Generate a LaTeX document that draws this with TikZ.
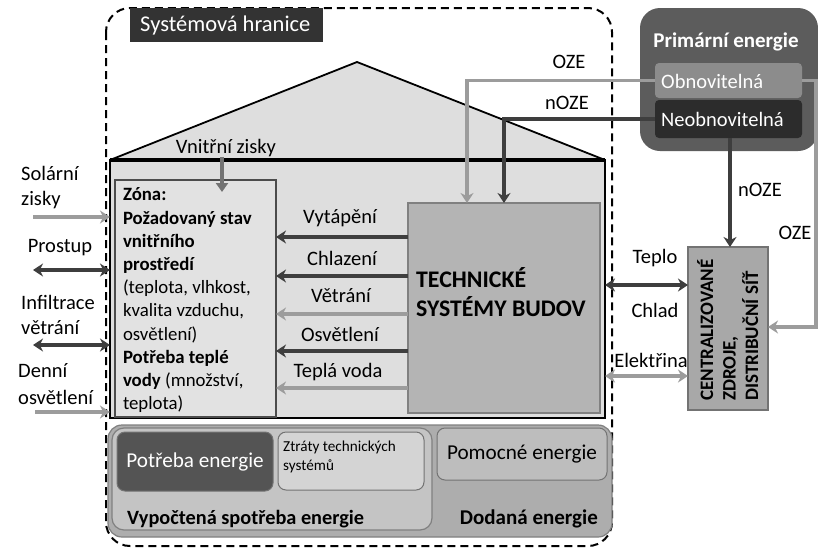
\documentclass[tikz,border=0pt]{standalone}
\usepackage{fontspec}
\setmainfont{Carlito}
\usetikzlibrary{arrows.meta,calc}
\definecolor{housegray}{HTML}{DEDEDE}
\definecolor{zonegray}{HTML}{E2E2E2}
\definecolor{techgray}{HTML}{B4B4B4}
\definecolor{centgray}{HTML}{A8A8A8}
\definecolor{primgray}{HTML}{5C5C5C}
\definecolor{obngray}{HTML}{8C8C8C}
\definecolor{neogray}{HTML}{2C2C2C}
\definecolor{darkarr}{HTML}{3E3E3E}
\definecolor{lightarr}{HTML}{9C9C9C}
\definecolor{botgray}{HTML}{ADADAD}
\definecolor{vypgray}{HTML}{C4C4C4}
\definecolor{potgray}{HTML}{545454}
\definecolor{ztrgray}{HTML}{D4D4D4}
\definecolor{pomgray}{HTML}{BDBDBD}
\definecolor{labelbg}{HTML}{333333}
\tikzset{
  box/.style={anchor=north west, inner sep=0pt, outer sep=0pt},
  txt/.style={inner sep=0pt, font=\fontsize{20.5}{25}\selectfont},
  arrbase/.style={line width=3.2pt},
  darkline/.style={arrbase, draw=darkarr, -{Stealth[length=10pt,width=13pt]}},
  lightline/.style={arrbase, draw=lightarr, -{Stealth[length=10pt,width=13pt]}},
  darkboth/.style={arrbase, draw=darkarr, {Stealth[length=10pt,width=13pt]}-{Stealth[length=10pt,width=13pt]}},
  lightboth/.style={arrbase, draw=lightarr, {Stealth[length=10pt,width=13pt]}-{Stealth[length=10pt,width=13pt]}},
  rbox/.style={box, rounded corners=8pt, draw=black!55, line width=1pt},
}
\begin{document}
\begin{tikzpicture}[x=1pt,y=-1pt]
\useasboundingbox (0,0) rectangle (818,549);
\fill[white] (0,0) rectangle (818,549);

% system boundary
\draw[line width=2pt, dash pattern=on 8pt off 5pt, rounded corners=24pt] (106,8) rectangle (612,546);
\node[box, fill=labelbg, minimum width=193pt, minimum height=34pt] (shlabel) at (130,8) {};
\node[txt, text=white, anchor=west, font=\fontsize{22.5}{26}\selectfont] (shtext) at (140,26) {Systémová hranice};

% roof
\fill[housegray] (110,160) -- (357,62) -- (605,160) -- cycle;
\draw[line width=1.8pt] (110,160) -- (357,62) -- (605,160);

% house body
\node[box, draw=black, line width=2pt, fill=housegray, minimum width=495pt, minimum height=258pt] (house) at (110,160) {};
\draw[line width=3.2pt] (house.north west) -- (house.north east);

% zone
\node[box, draw=black!70, line width=1.2pt, fill=zonegray, minimum width=161pt, minimum height=237pt] (zone) at (115,180) {};
\node[box, inner sep=0pt, align=left, font=\fontsize{18.8}{23.2}\selectfont] (zonetext) at (123,188)
{\textbf{Zóna:}\\\textbf{Požadovaný stav}\\\textbf{vnitřního}\\\textbf{prostředí}\\(teplota, vlhkost,\\kvalita vzduchu,\\osvětlení)\\\textbf{Potřeba teplé}\\\textbf{vody} (množství,\\teplota)};

% internal gains
\node[txt] (vz) at (226,148) {Vnitřní zisky};
\coordinate (vzend) at (222,192);
\draw[arrbase, draw=black!55, -{Triangle[length=9pt,width=12pt]}] (vz.south -| vzend) -- (vzend);

% technical systems
\node[box, draw=black!50, line width=1.2pt, fill=techgray, minimum width=192pt, minimum height=210pt] (tech) at (408,203) {};
\node[txt, anchor=west, align=left, font=\fontsize{23.8}{29}\selectfont\bfseries] (techtext) at (416,292) {TECHNICKÉ\\SYSTÉMY BUDOV};

% services arrows
\draw[darkline]  (tech.west |- 0,237) -- (zone.east |- 0,237);
\draw[darkline]  (tech.west |- 0,276) -- (zone.east |- 0,276);
\draw[lightline] (tech.west |- 0,314) -- (zone.east |- 0,314);
\draw[darkline]  (tech.west |- 0,351) -- (zone.east |- 0,351);
\draw[lightline] (tech.west |- 0,388) -- (zone.east |- 0,388);
\node[txt] (lvyt) at (340,218) {Vytápění};
\node[txt] (lchl) at (342,258) {Chlazení};
\node[txt] (lvet) at (341,296) {Větrání};
\node[txt] (losv) at (340,334) {Osvětlení};
\node[txt] (ltv)  at (338,372) {Teplá voda};

% left side
\coordinate (solS) at (33,217);
\coordinate (proS) at (33,270);
\coordinate (infS) at (33,345);
\coordinate (denS) at (35,412);
\draw[lightline] (solS) -- (house.west |- solS);
\draw[darkboth]  (proS) -- (house.west |- proS);
\draw[darkboth]  (infS) -- (house.west |- infS);
\draw[lightline] (denS) -- (house.west |- denS);
\node[txt, anchor=west, align=left] (lsol) at (21,188) {Solární\\zisky};
\node[txt] (lpro) at (60,248) {Prostup};
\node[txt, anchor=west, align=left] (linf) at (21,315) {Infiltrace\\větrání};
\node[txt, anchor=west, align=left, font=\fontsize{20.5}{27}\selectfont] (lden) at (18,384) {Denní\\osvětlení};

% primary energy
\node[box, rounded corners=20pt, fill=primgray, minimum width=178pt, minimum height=143pt] (prim) at (640,8) {};
\node[txt, text=white, font=\fontsize{21}{24}\selectfont\bfseries] (primt) at (726,42) {Primární energie};
\node[box, rounded corners=4pt, fill=obngray, minimum width=147pt, minimum height=35pt] (obn) at (655,63) {};
\node[txt, text=white, anchor=west] (obnt) at (661,81) {Obnovitelná};
\node[box, rounded corners=4pt, fill=neogray, minimum width=147pt, minimum height=38pt] (neo) at (655,100) {};
\node[txt, text=white, anchor=west] (neot) at (661,119) {Neobnovitelná};

% central sources
\node[box, draw=black!55, line width=1.2pt, fill=centgray, minimum width=80pt, minimum height=163pt] (cent) at (688,247) {};
\node[rotate=90, anchor=north west, align=left, inner sep=0pt, font=\fontsize{19}{22.5}\selectfont\bfseries] (centt) at (697,401) {CENTRALIZOVANÉ\\ZDROJE,\\DISTRIBUČNÍ SÍŤ};

% primary energy flows
\coordinate (ozeX) at (467,0);
\coordinate (noX) at (504,0);
\coordinate (nvX) at (730,0);
\coordinate (ozeR) at (816,327);
\draw[lightline] (obn.west) -| (tech.north -| ozeX);
\draw[darkline]  (neo.west |- 0,119) -| (tech.north -| noX);
\draw[darkline]  (neo.south -| nvX) -- (cent.north -| nvX);
\draw[lightline] (obn.east) -| (ozeR) -- (cent.east |- ozeR);
\node[txt] (loze1) at (569,62) {OZE};
\node[txt] (lnoze1) at (567,103) {nOZE};
\node[txt] (lnoze2) at (760,190) {nOZE};
\node[txt] (loze2) at (795,233) {OZE};

% exchange with central
\draw[darkboth]  (house.east |- 0,285) -- (cent.west |- 0,285);
\draw[lightboth] (house.east |- 0,376) -- (cent.west |- 0,376);
\node[txt] (ltep) at (655,258) {Teplo};
\node[txt] (lchd) at (655,310) {Chlad};
\node[txt] (lele) at (651,360) {Elektřina};

% bottom energy balance
\node[box, rounded corners=14pt, draw=black!50, line width=1.2pt, fill=botgray, minimum width=504pt, minimum height=112pt] (bot) at (108,425) {};
\node[box, rounded corners=12pt, draw=black!50, line width=1.2pt, fill=vypgray, minimum width=320pt, minimum height=102pt] (vyp) at (112,428) {};
\node[rbox, fill=potgray, minimum width=156pt, minimum height=59pt] (pot) at (117,432) {};
\node[txt, text=white, font=\fontsize{21.2}{25}\selectfont] (pott) at (pot.center) {Potřeba energie};
\node[rbox, fill=ztrgray, minimum width=146pt, minimum height=58pt] (ztr) at (278,432) {};
\node[anchor=north west, inner sep=0pt, align=left, font=\fontsize{15.2}{19}\selectfont] (ztrt) at (283,441) {Ztráty technických\\systémů};
\node[rbox, fill=pomgray, minimum width=170pt, minimum height=52pt] (pom) at (437,428) {};
\node[txt, font=\fontsize{21.2}{25}\selectfont] (pomt) at (pom.center) {Pomocné energie};
\node[txt, anchor=west, font=\fontsize{20.3}{25}\selectfont\bfseries] (vypt) at (127,519) {Vypočtená spotřeba energie};
\node[txt, anchor=east, font=\fontsize{21}{25}\selectfont\bfseries] (dodt) at (598,519) {Dodaná energie};
\end{tikzpicture}
\end{document}
